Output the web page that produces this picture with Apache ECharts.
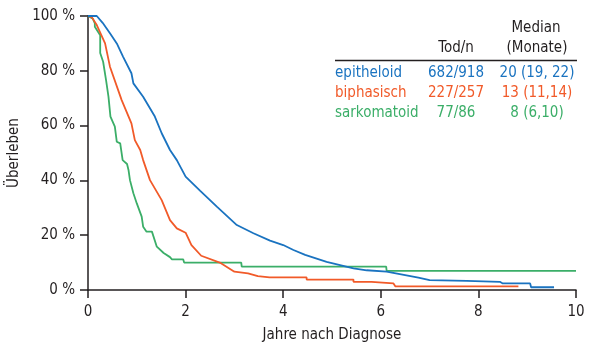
<!DOCTYPE html>
<html>
<head>
<meta charset="utf-8">
<script src="https://cdn.jsdelivr.net/npm/echarts@6/dist/echarts.min.js"></script>
<style>
  html, body { margin: 0; padding: 0; background: #fff; }
  #chart { width: 600px; height: 352px; }
</style>
</head>
<body>
<div id="chart"></div>
<script>
// Kaplan-Meier curves, [Jahre, Überleben %]
var epitheloid = [[0, 100], [0.18, 100], [0.3, 97.5], [0.45, 93.7], [0.59, 90], [0.72, 85.1], [0.89, 79.1],
  [0.93, 75.4], [1.13, 70.5], [1.37, 63.3], [1.51, 57.2], [1.68, 51.1], [1.82, 47.4], [2.0, 41.4],
  [2.3, 36.2], [2.64, 30.4], [3.05, 23.7], [3.39, 20.7], [3.73, 18.0], [4.0, 16.4], [4.21, 14.6],
  [4.45, 12.8], [4.89, 10.3], [5.44, 7.9], [5.71, 7.2], [6.12, 6.7], [6.39, 5.8], [6.77, 4.5],
  [7.0, 3.6], [7.76, 3.3], [8.44, 3.0], [8.5, 2.4], [9.06, 2.4], [9.08, 1.0], [9.55, 1.0]]
var biphasisch = [[0, 100], [0.08, 99.5], [0.18, 96.7], [0.35, 90], [0.45, 81.5], [0.69, 69.3], [0.89, 60.8],
  [0.96, 54.7], [1.07, 51.1], [1.13, 47.4], [1.27, 40.1], [1.51, 32.8], [1.68, 25.5], [1.82, 22.5],
  [2.0, 20.9], [2.12, 16.4], [2.32, 12.5], [2.7, 10.0], [3.0, 6.7], [3.28, 6.1], [3.48, 5.1], [3.72, 4.6],
  [4.48, 4.6], [4.48, 3.8], [5.44, 3.8], [5.44, 3.0], [5.81, 3.0], [5.81, 2.4], [6.26, 2.4], [6.3, 1.3],
  [8.82, 1.3]]
var sarkomatoid = [[0, 100], [0.1, 99], [0.14, 97.3], [0.14, 96.1], [0.25, 93], [0.25, 86.5], [0.31, 83.3],
  [0.35, 82.8], [0.37, 76.6], [0.42, 70.5], [0.46, 63.3], [0.55, 59.6], [0.59, 54.1], [0.66, 53.5],
  [0.71, 47.4], [0.8, 46], [0.83, 43.8], [0.86, 40.1], [0.93, 35.3], [1.0, 31.6], [1.1, 26.8], [1.13, 23.1],
  [1.2, 21.3], [1.31, 21.3], [1.41, 15.8], [1.55, 13.5], [1.68, 12.0], [1.72, 11.2], [1.95, 11.2],
  [1.97, 10.0], [3.14, 10.0], [3.15, 8.5], [6.11, 8.5], [6.12, 7.0], [10, 7.0]]

var groups = ['epitheloid', 'biphasisch', 'sarkomatoid']
var todN = ['682/918', '227/257', '77/86']
var medians = ['20 (19, 22)', '13 (11,14)', '8 (6,10)']
var colors = ['#1a73c0', '#f15a29', '#3bae68']

var font = "'DejaVu Sans Condensed', 'Liberation Sans Narrow', sans-serif"
var ink = '#231f20'
var fs = 15

var chart = echarts.init(document.getElementById('chart'))

function label (text, x, y, align, color) {
  return {
    type: 'text',
    x: x,
    y: y,
    style: { text: text, align: align, verticalAlign: 'middle', fill: color, font: fs + 'px ' + font }
  }
}

// table in the upper right
var table = [
  label('Median', 536, 28, 'center', ink),
  label('(Monate)', 537, 48, 'center', ink),
  label('Tod/n', 456, 48, 'center', ink),
  { type: 'line', shape: { x1: 335, y1: 60.5, x2: 577, y2: 60.5 }, style: { stroke: ink, lineWidth: 1.5 } }
]
groups.forEach(function (g, i) {
  var y = 73 + i * 20
  table.push(label(g, 335, y, 'left', colors[i]))
  table.push(label(todN[i], 456, y, 'center', colors[i]))
  table.push(label(medians[i], 537, y, 'center', colors[i]))
})

chart.setOption({
  animation: false,
  textStyle: { fontFamily: font },
  grid: {
    left: 88,
    right: 24,
    top: 16,
    bottom: 62,
    containLabel: false,
    outerBoundsMode: 'none'
  },
  xAxis: {
    type: 'value',
    min: 0,
    max: 10,
    interval: 2,
    name: 'Jahre nach Diagnose',
    nameLocation: 'middle',
    nameGap: 38,
    nameTextStyle: { color: ink, fontSize: fs, fontFamily: font },
    splitLine: { show: false },
    axisLine: { show: true, lineStyle: { color: ink, width: 1.5 } },
    axisTick: { show: true, length: 8, lineStyle: { color: ink, width: 1.5 } },
    axisLabel: { color: ink, fontSize: fs, fontFamily: font, margin: 15 }
  },
  yAxis: {
    type: 'value',
    min: 0,
    max: 100,
    interval: 20,
    name: 'Überleben',
    nameLocation: 'middle',
    nameGap: 58,
    nameTextStyle: { color: ink, fontSize: fs, fontFamily: font },
    splitLine: { show: false },
    axisLine: { show: true, lineStyle: { color: ink, width: 1.5 } },
    axisTick: { show: true, length: 8, lineStyle: { color: ink, width: 1.5 } },
    axisLabel: { color: ink, fontSize: fs, fontFamily: font, margin: 13, formatter: '{value} %' }
  },
  graphic: table,
  series: [
    { name: 'sarkomatoid', type: 'line', data: sarkomatoid, showSymbol: false, lineStyle: { color: colors[2], width: 1.8 } },
    { name: 'biphasisch', type: 'line', data: biphasisch, showSymbol: false, lineStyle: { color: colors[1], width: 1.8 } },
    { name: 'epitheloid', type: 'line', data: epitheloid, showSymbol: false, lineStyle: { color: colors[0], width: 1.8 } }
  ]
})
</script>
</body>
</html>
